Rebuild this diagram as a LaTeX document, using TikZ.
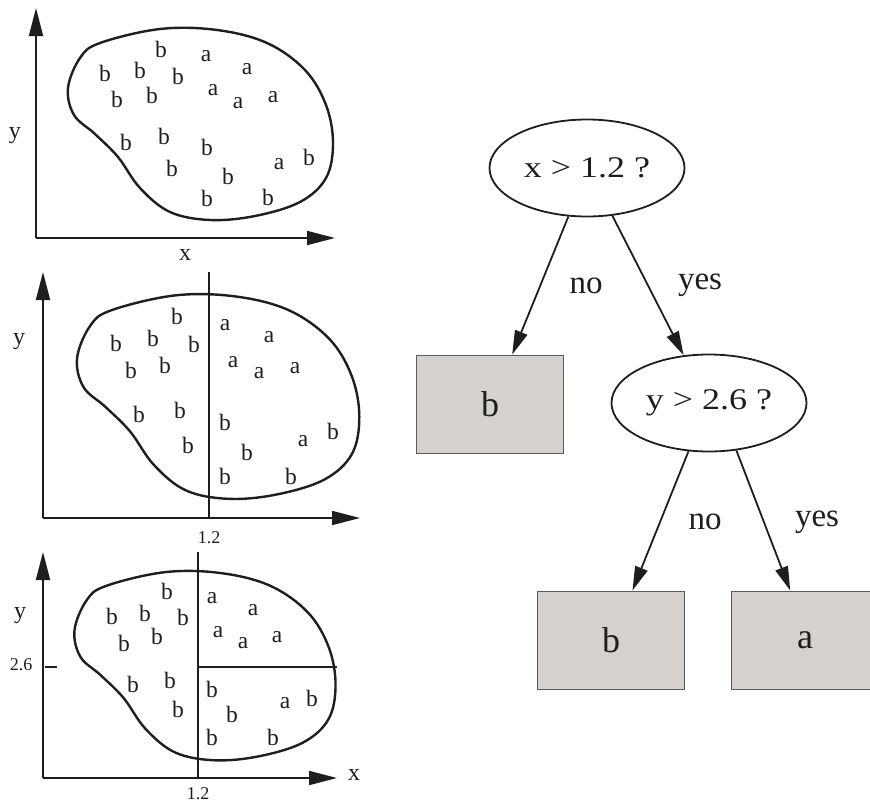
\documentclass[tikz,border=0pt]{standalone}
\usepackage{fontspec}
\setmainfont{Liberation Serif}
\usetikzlibrary{shapes.geometric,arrows.meta,calc}
\definecolor{ink}{HTML}{1E1E1E}
\definecolor{leafgray}{HTML}{D5D1CE}
\definecolor{leafedge}{HTML}{5A5A5A}
\begin{document}
\begin{tikzpicture}[x=1pt,y=-1pt,
  pt/.style={inner sep=0pt,text=ink,font=\fontsize{23.5}{23.5}\selectfont},
  axlbl/.style={inner sep=0pt,text=ink,font=\fontsize{24}{24}\selectfont},
  ticklbl/.style={inner sep=0pt,text=ink,font=\fontsize{18}{18}\selectfont},
  axisline/.style={draw=ink,line width=1.8pt,-{Triangle[length=28pt,width=14pt]}},
  splitline/.style={draw=ink,line width=1.6pt},
  blobline/.style={draw=ink,line width=2.4pt},
  decision/.style={ellipse,draw=ink,line width=1.8pt,minimum width=195pt,minimum height=97pt,inner sep=0pt,text=ink,font=\fontsize{30}{30}\selectfont},
  leaf/.style={rectangle,draw=leafedge,fill=leafgray,line width=1pt,minimum width=147pt,minimum height=98pt,inner sep=0pt,text=ink,font=\fontsize{36}{36}\selectfont},
  edgeline/.style={draw=ink,line width=1.8pt,-{Triangle[length=24pt,width=13pt]}},
  edgelbl/.style={inner sep=0pt,text=ink,font=\fontsize{33}{33}\selectfont}
]
\useasboundingbox (0,0) rectangle (870,803);
\clip (0,0) rectangle (870,803);

% ---------- Panel 1 ----------
\coordinate (o1) at (36,238);
\coordinate (yt1) at (36,8);
\coordinate (xt1) at (335,238);
\draw[axisline] (o1) -- (yt1);
\draw[axisline] (o1) -- (xt1);
\begin{scope}[shift={(36,238)}]
\draw[blobline] plot[smooth cycle,tension=0.6] coordinates {(64,-195) (124,-209) (181,-208) (231,-195) (269,-168) (290,-133) (297,-95) (290,-60) (264,-36) (219,-22) (174,-18) (134,-26) (104,-50) (82,-81) (59,-104) (38,-123) (32,-150) (44,-180)};
\end{scope}
\node[axlbl] (ylab1) at (15,136) {y};
\node[axlbl] (xlab1) at (185,255) {x};
\foreach \t/\px/\py [count=\i] in {b/161/49,a/206/56,a/247/69,b/105/73,b/140/70,b/178/76,b/117/99,b/152/95,a/213/90,a/238/103,a/273/97,b/126/142,b/164/136,b/207/147,b/172/168,b/228/176,a/279/164,b/309/157,b/207/198,b/268/197}
  \node[pt] (pa\i) at (\px,\py) {\t};

% ---------- Panel 2 ----------
\coordinate (o2) at (43,518);
\coordinate (yt2) at (43,272);
\coordinate (xt2) at (360,518);
\coordinate (s2t) at (209,272);
\coordinate (s2b) at (209,518);
\draw[axisline] (o2) -- (yt2);
\draw[axisline] (o2) -- (xt2);
\begin{scope}[shift={(43,518)},scale=1.065]
\draw[blobline] plot[smooth cycle,tension=0.6] coordinates {(64,-195) (124,-209) (181,-208) (231,-195) (269,-168) (290,-133) (297,-95) (290,-60) (264,-36) (219,-22) (174,-18) (134,-26) (104,-50) (82,-81) (59,-104) (38,-123) (32,-150) (44,-180)};
\end{scope}
\draw[splitline] (s2t) -- (s2b);
\node[axlbl] (ylab2) at (19,342) {y};
\node[ticklbl] (xtick2) at (209,538) {1.2};
\foreach \t/\px/\py [count=\i] in {b/177/316,a/225/325,a/269/337,b/116/343,b/153/338,b/194/344,b/131/370,b/165/365,a/233/362,a/259/373,a/295/368,b/139/414,b/180/410,b/225/422,b/188/445,b/247/452,a/303/441,b/333/431,b/225/476,b/291/476}
  \node[pt] (pb\i) at (\px,\py) {\t};

% ---------- Panel 3 ----------
\coordinate (o3) at (43,778);
\coordinate (yt3) at (43,552);
\coordinate (xt3) at (337,778);
\coordinate (s3t) at (198,552);
\coordinate (s3b) at (198,778);
\coordinate (h3l) at (198,667);
\coordinate (h3r) at (337,667);
\coordinate (tk3l) at (45,667);
\coordinate (tk3r) at (57,667);
\draw[axisline] (o3) -- (yt3);
\draw[axisline] (o3) -- (xt3);
\begin{scope}[shift={(43,778)},scale=0.985]
\draw[blobline] plot[smooth cycle,tension=0.6] coordinates {(64,-195) (124,-209) (181,-208) (231,-195) (269,-168) (290,-133) (297,-95) (290,-60) (264,-36) (219,-22) (174,-18) (134,-26) (104,-50) (82,-81) (59,-104) (38,-123) (32,-150) (44,-180)};
\end{scope}
\draw[splitline] (s3t) -- (s3b);
\draw[splitline] (h3l) -- (h3r);
\draw[splitline] (tk3l) -- (tk3r);
\node[axlbl] (ylab3) at (20,616) {y};
\node[ticklbl] (ytick3) at (21,665) {2.6};
\node[ticklbl] (xtick3) at (198,794) {1.2};
\node[axlbl] (xlab3) at (354,775) {x};
\foreach \t/\px/\py [count=\i] in {b/167/591,a/212/598,a/253/610,b/112/616,b/145/613,b/183/617,b/124/643,b/157/636,a/218/632,a/243/643,a/277/637,b/133/684,b/170/680,b/212/689,b/178/709,b/232/714,a/285/703,b/312/698,b/212/737,b/273/737}
  \node[pt] (pc\i) at (\px,\py) {\t};

% ---------- Tree ----------
\node[decision] (root) at (587,168) {\scalebox{1.2}[1]{x > 1.2 ?}};
\node[leaf] (leafb1) at (490,404) {b};
\node[decision] (ytest) at (709,403) {\scalebox{1.2}[1]{y > 2.6 ?}};
\node[leaf] (leafb2) at (611,640) {b};
\node[leaf] (leafa) at (805,640) {a};

\draw[edgeline] (root.249) -- ($(leafb1.north)!0.3!(leafb1.north east)$);
\draw[edgeline] (root.298) -- (ytest.118);
\draw[edgeline] (ytest.247) -- ($(leafb2.north)!0.29!(leafb2.north east)$);
\draw[edgeline] (ytest.300) -- ($(leafa.north)!0.2!(leafa.north west)$);

\node[edgelbl] (no1) at (586,286) {no};
\node[edgelbl] (yes1) at (700,285) {yes};
\node[edgelbl] (no2) at (705,522) {no};
\node[edgelbl] (yes2) at (817,522) {yes};
\end{tikzpicture}
\end{document}
